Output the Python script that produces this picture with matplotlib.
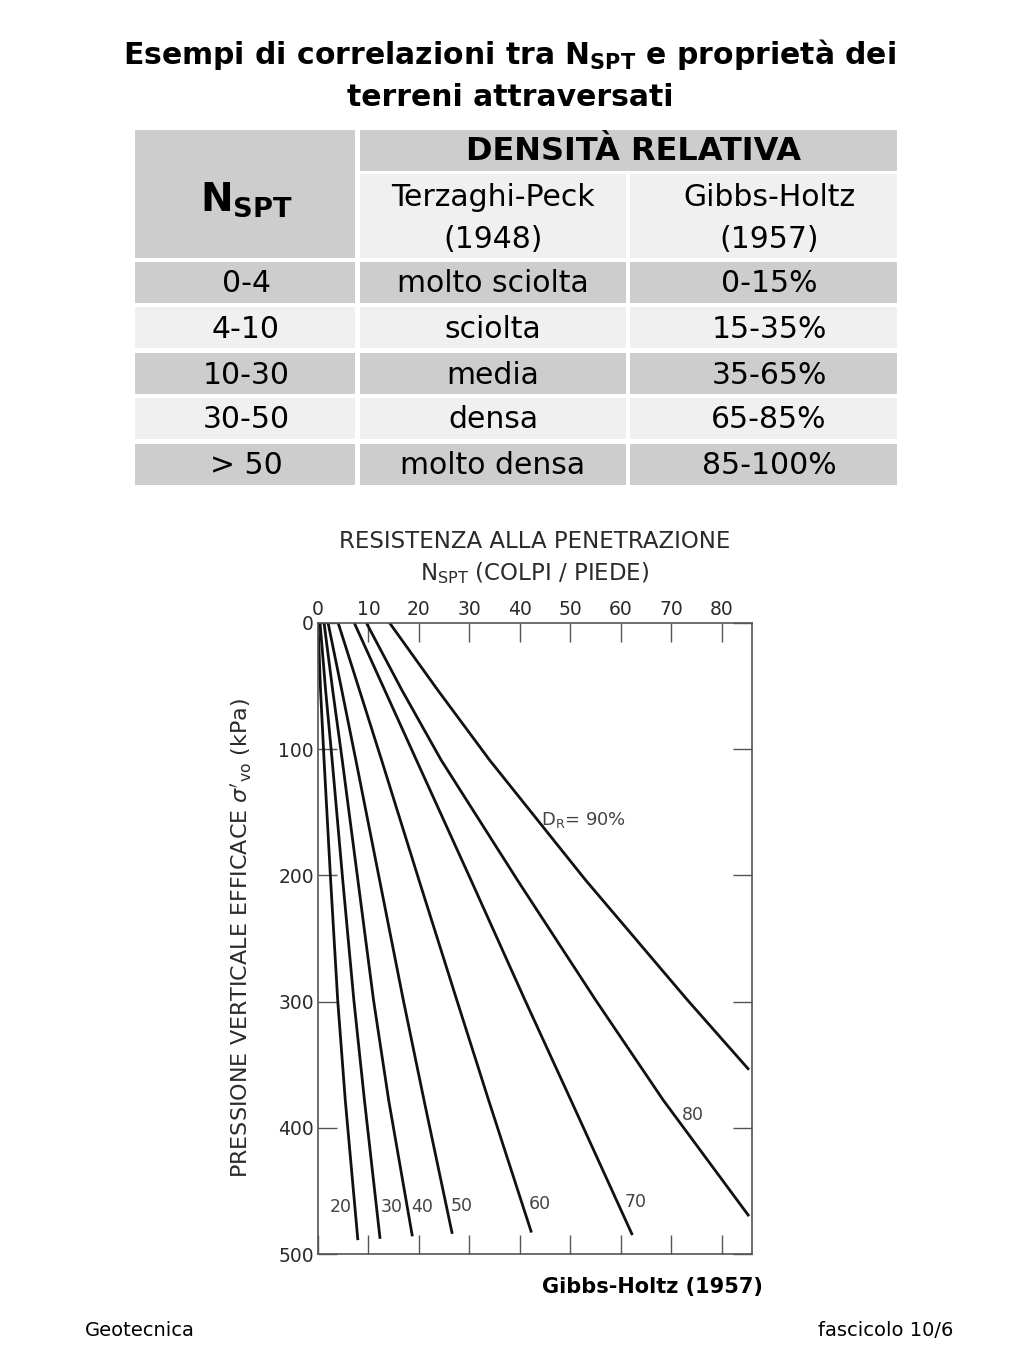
import matplotlib
matplotlib.use('Agg')
import matplotlib.pyplot as plt
from matplotlib.patches import Rectangle

FONT = 'DejaVu Sans'

# table data
nspt_ranges = ['0-4', '4-10', '10-30', '30-50', '> 50']
terzaghi_peck = ['molto sciolta', 'sciolta', 'media', 'densa', 'molto densa']
gibbs_holtz = ['0-15%', '15-35%', '35-65%', '65-85%', '85-100%']

# curves: sigma'vo (kPa) vs N_SPT
dr_labels = ['20', '30', '40', '50', '60', '70', '80', '90']
sigma_pts = [
    [0, 53, 108.6, 203.6, 298.7, 378, 489],
    [0, 53, 108.6, 203.6, 298.7, 378, 488],
    [0, 53, 108.6, 203.6, 298.7, 378, 486],
    [0, 53, 108.6, 203.6, 298.7, 378, 484],
    [0, 53, 108.6, 203.6, 298.7, 378, 483],
    [0, 53, 108.6, 203.6, 298.7, 378, 485],
    [0, 53, 108.6, 203.6, 298.7, 378, 470],
    [0, 53, 108.6, 203.6, 298.7, 354],
]
n_pts = [
    [0.0, 0.5, 1.2, 2.5, 3.9, 5.4, 7.9],
    [0.4, 1.5, 2.8, 4.9, 7.1, 9.2, 12.3],
    [1.2, 2.9, 4.8, 7.9, 11.0, 14.0, 18.7],
    [2.0, 4.7, 7.5, 12.2, 16.9, 21.0, 26.6],
    [4.0, 8.2, 12.6, 20.0, 27.5, 33.8, 42.3],
    [7.2, 13.2, 19.5, 30.3, 41.0, 50.1, 62.3],
    [9.6, 16.6, 24.4, 39.5, 55.0, 68.4, 85.4],
    [14.2, 23.7, 34.0, 53.0, 73.2, 85.4],
]
label_pos = [(4.5, 463), (14.6, 463), (20.7, 463), (28.4, 462),
             (43.9, 460), (63.0, 459), (74.3, 390), (44.2, 156)]

W, H = 1024, 1365
fig = plt.figure(figsize=(W / 100, H / 100), dpi=100)


def fx(x):
    return x / W


def fy(y):
    return 1 - y / H


# title
fig.text(fx(510), fy(55), 'Esempi di correlazioni tra N$_{\\mathregular{SPT}}$ e proprietà dei',
         ha='center', va='center', fontsize=21.5, fontweight='bold', family=FONT)
fig.text(fx(510), fy(97), 'terreni attraversati', ha='center', va='center',
         fontsize=21.5, fontweight='bold', family=FONT)

# table
dark = '#cdcdcd'
light = '#f0f0f0'
cols = [(135, 355), (360, 626), (630, 897)]


def cell(x0, x1, y0, y1, color):
    fig.add_artist(Rectangle((fx(x0), fy(y1)), fx(x1) - fx(x0), fy(y0) - fy(y1),
                             transform=fig.transFigure, facecolor=color, edgecolor='none'))


cell(cols[0][0], cols[0][1], 130, 258, dark)
cell(cols[1][0], cols[2][1], 130, 171, dark)
cell(cols[1][0], cols[1][1], 174, 258, light)
cell(cols[2][0], cols[2][1], 174, 258, light)

fs = 21.5
fig.text(fx(633), fy(152), 'DENSITÀ RELATIVA', ha='center', va='center',
         fontsize=23, fontweight='bold', family=FONT)
fig.text(fx(246), fy(200), 'N$_{\\mathregular{SPT}}$', ha='center', va='center',
         fontsize=28, fontweight='bold', family=FONT)
fig.text(fx(493), fy(198), 'Terzaghi-Peck', ha='center', va='center', fontsize=fs, family=FONT)
fig.text(fx(493), fy(240), '(1948)', ha='center', va='center', fontsize=fs, family=FONT)
fig.text(fx(769), fy(198), 'Gibbs-Holtz', ha='center', va='center', fontsize=fs, family=FONT)
fig.text(fx(769), fy(240), '(1957)', ha='center', va='center', fontsize=fs, family=FONT)

row_tops = [262, 307, 353, 398, 444]
for i, top in enumerate(row_tops):
    color = dark if i % 2 == 0 else light
    for c0, c1 in cols:
        cell(c0, c1, top, top + 41, color)
    yc = top + 22
    fig.text(fx(246), fy(yc), nspt_ranges[i], ha='center', va='center', fontsize=fs, family=FONT)
    fig.text(fx(493), fy(yc), terzaghi_peck[i], ha='center', va='center', fontsize=fs, family=FONT)
    fig.text(fx(769), fy(yc), gibbs_holtz[i], ha='center', va='center', fontsize=fs, family=FONT)

# chart
ink = '#2a2a2a'
ax = fig.add_axes([fx(318), fy(1254), fx(752) - fx(318), fy(623) - fy(1254)])
for n, s in zip(n_pts, sigma_pts):
    ax.plot(n, s, color='#111111', lw=2.0, solid_capstyle='butt', solid_joinstyle='round')
for lab, (n, s) in zip(dr_labels, label_pos):
    if lab == '90':
        ax.text(n, s, 'D$_{\\mathregular{R}}$= 90%', fontsize=13, color='#444444', va='center', ha='left')
    else:
        ax.text(n, s, lab, fontsize=12.5, color='#444444', va='center', ha='center')

ax.set_xlim(0, 86)
ax.set_ylim(500, 0)
ax.set_xticks(range(0, 90, 10))
ax.set_yticks(range(0, 600, 100))
ax.xaxis.tick_top()
ax.tick_params(direction='in', length=14, width=1, color='#555555', labelcolor=ink,
               labelsize=13.5, top=True, bottom=True, left=True, right=True,
               labeltop=True, labelbottom=False, labelleft=True, labelright=False, pad=3)
for sp in ax.spines.values():
    sp.set_color('#555555')
    sp.set_linewidth(1.2)

ax.set_xlabel('RESISTENZA ALLA PENETRAZIONE\nN$_{\\mathregular{SPT}}$ (COLPI / PIEDE)',
              fontsize=16.5, color=ink, labelpad=14, linespacing=1.35)
ax.xaxis.set_label_position('top')
ax.set_ylabel("PRESSIONE VERTICALE EFFICACE $\\sigma'_{\\mathregular{vo}}$ (kPa)",
              fontsize=16, color=ink, labelpad=17)

fig.text(fx(652), fy(1287), 'Gibbs-Holtz (1957)', ha='center', va='center',
         fontsize=15, fontweight='bold', family=FONT)
fig.text(fx(85), fy(1330), 'Geotecnica', ha='left', va='center', fontsize=14, family=FONT)
fig.text(fx(953), fy(1330), 'fascicolo 10/6', ha='right', va='center', fontsize=14, family=FONT)

fig.savefig('out.png', dpi=100)
